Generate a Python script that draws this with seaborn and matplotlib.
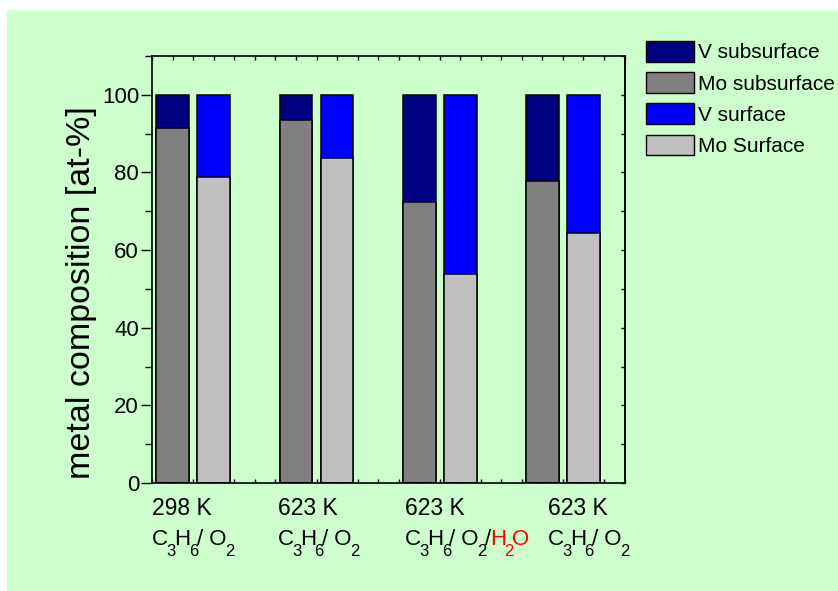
import numpy as np
import pandas as pd
import matplotlib
matplotlib.use("Agg")
import matplotlib.pyplot as plt
import seaborn as sns
from matplotlib.patches import Patch, Rectangle
from matplotlib.ticker import MultipleLocator

# Metal composition (at-%) of the catalyst under four treatment conditions
temperatures = ["298 K", "623 K", "623 K", "623 K"]
# gas feed written as (text, is_subscript, colour) pieces
feed_base = [("C", False, "black"), ("3", True, "black"), ("H", False, "black"),
             ("6", True, "black"), ("/ O", False, "black"), ("2", True, "black")]
feed_water = [("/", False, "black"), ("H", False, "red"), ("2", True, "red"), ("O", False, "red")]
gas_feeds = [feed_base, feed_base, feed_base + feed_water, feed_base]

mo_subsurface = [91.5, 93.4, 72.5, 77.7]
v_subsurface = [8.5, 6.6, 27.5, 22.3]
mo_surface = [78.9, 83.7, 53.8, 64.4]
v_surface = [21.1, 16.3, 46.2, 35.6]

legend_labels = ["V subsurface", "Mo subsurface", "V surface", "Mo Surface"]
colors = {"V subsurface": "#000080", "Mo subsurface": "#808080",
          "V surface": "#0000FF", "Mo Surface": "#C0C0C0"}

# bar positions on the x axis (one unit = one minor tick)
group_start = [0, 6, 12, 18]
layer_offset = {"subsurface": 0, "surface": 2}
label_shift = [-1.0, -0.9, -0.7, 0.26]

rows = []
for i, g in enumerate(group_start):
    rows.append(dict(x=g + layer_offset["subsurface"], layer="subsurface",
                     mo=mo_subsurface[i], total=mo_subsurface[i] + v_subsurface[i]))
    rows.append(dict(x=g + layer_offset["surface"], layer="surface",
                     mo=mo_surface[i], total=mo_surface[i] + v_surface[i]))
df = pd.DataFrame(rows)

sns.set_style("ticks")
plt.rcParams["font.family"] = ["Liberation Sans", "DejaVu Sans"]
for key in ["text.color", "axes.labelcolor", "xtick.color", "ytick.color", "axes.edgecolor"]:
    plt.rcParams[key] = "black"

GREEN = "#CCFFCC"
fig = plt.figure(figsize=(8.38, 5.91), dpi=100, facecolor="white")
fig.patches.append(Rectangle((7 / 838, 0), 1, (591 - 10) / 591, transform=fig.transFigure,
                             facecolor=GREEN, edgecolor="none", zorder=-10))
ax = fig.add_axes([152.3 / 838, 1 - 483 / 591, (624.5 - 152.3) / 838, (483 - 56) / 591])
ax.set_facecolor(GREEN)

bar_kw = dict(native_scale=True, dodge=False, width=0.8, edgecolor="black",
              linewidth=1.1, errorbar=None, legend=False, saturation=1, ax=ax)
# full stack (V on top of Mo), then the Mo portion drawn over it
sns.barplot(data=df, x="x", y="total", hue="layer",
            palette={"subsurface": colors["V subsurface"], "surface": colors["V surface"]},
            **bar_kw)
sns.barplot(data=df, x="x", y="mo", hue="layer",
            palette={"subsurface": colors["Mo subsurface"], "surface": colors["Mo Surface"]},
            **bar_kw)

ax.set_xlim(-1, 22)
ax.set_ylim(0, 110)
ax.set_xlabel("")
ax.set_ylabel("metal composition [at-%]", fontsize=24.5)
ax.yaxis.set_label_coords(-0.117, 0.446)

for s in ax.spines.values():
    s.set_visible(True)
    s.set_linewidth(1.2)
    s.set_color("black")

ax.set_xticks(np.arange(-1, 23))
ax.set_xticklabels([])
ax.tick_params(axis="x", which="both", direction="in", length=3, width=1,
               top=True, bottom=True)
ax.set_yticks([0, 20, 40, 60, 80, 100])
ax.yaxis.set_minor_locator(MultipleLocator(10))
ax.tick_params(axis="y", which="major", direction="out", length=8, width=1,
               labelsize=16, pad=1.5)
ax.tick_params(axis="y", which="minor", direction="out", length=5, width=1)

right = ax.secondary_yaxis("right")
right.set_yticks(np.arange(0, 111, 10))
right.set_yticklabels([])
right.tick_params(direction="in", length=3, width=1)
right.spines["right"].set_linewidth(1.2)


def draw_formula(x, pieces, base_dy, size=16, sub_size=12, sub_drop=11):
    """Write a chemical formula piece by piece, with deep subscripts."""
    prev = None
    for text, is_sub, color in pieces:
        dy = base_dy - (sub_drop if is_sub else 0)
        fs = sub_size if is_sub else size
        if prev is None:
            prev = ax.annotate(text, xy=(x, 0), xycoords=("data", "axes fraction"),
                               xytext=(0, dy), textcoords="offset pixels",
                               ha="left", va="baseline", fontsize=fs, color=color,
                               annotation_clip=False)
        else:
            dx = -1.5 if is_sub else -1.5
            prev = ax.annotate(text, xy=(1, 0), xycoords=(prev, ax.transAxes),
                               xytext=(dx, dy), textcoords="offset pixels",
                               ha="left", va="baseline", fontsize=fs, color=color,
                               annotation_clip=False)


# condition labels below each pair of bars
for i, g in enumerate(group_start):
    xpos = g + label_shift[i]
    ax.annotate(temperatures[i], xy=(xpos, 0), xycoords=("data", "axes fraction"),
                xytext=(0, -32), textcoords="offset pixels", ha="left", va="baseline",
                fontsize=16.5, annotation_clip=False)
    draw_formula(xpos, gas_feeds[i], -62)

handles = [Patch(facecolor=colors[k], edgecolor="black", linewidth=1) for k in legend_labels]
fig.legend(handles, legend_labels, loc="upper left", bbox_to_anchor=(646 / 838, 1 - 41 / 591),
           bbox_transform=fig.transFigure, frameon=False, fontsize=15,
           handlelength=2.3, handleheight=1.15, handletextpad=0.2, labelspacing=0.47,
           borderaxespad=0, borderpad=0)

fig.savefig("out.png", dpi=100, facecolor="white")
